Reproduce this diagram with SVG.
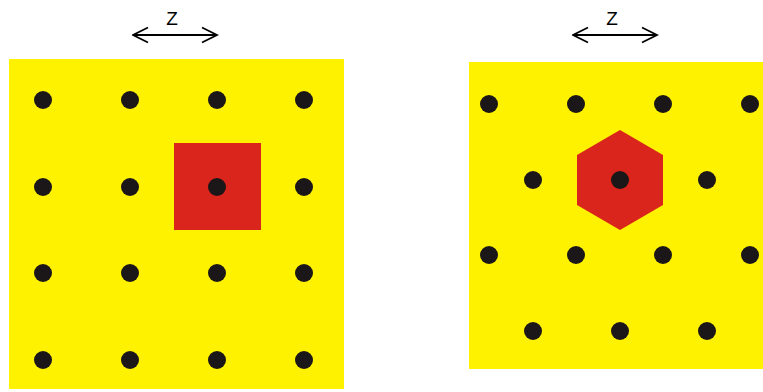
<svg xmlns="http://www.w3.org/2000/svg" width="763" height="392" viewBox="0 0 763 392">
<style>
.bg{fill:#FFF200}
.red{fill:#DA251D}
.dot{fill:#1B1718}
.arr{stroke:#000;stroke-width:1.8;fill:none}
.lbl{font-family:"Liberation Sans",Arial,sans-serif;font-size:19px;fill:#000}
</style>
<defs>
<marker id="ah" viewBox="0 0 18 18" refX="16.5" refY="9" markerWidth="18" markerHeight="18" markerUnits="userSpaceOnUse" orient="auto-start-reverse">
<path d="M1.5,1.5 L16.5,9 L1.5,16.5" fill="none" stroke="#000" stroke-width="1.8"/>
</marker>
<circle id="d" r="9" class="dot"/>
</defs>
<rect width="763" height="392" fill="#fff"/>
<g id="left-lattice">
<rect class="bg" x="9" y="59" width="335" height="330"/>
<rect id="square-cell" class="red" x="174" y="143" width="87" height="87"/>
<g id="left-dots">
<use href="#d" x="43" y="100"/><use href="#d" x="130" y="100"/><use href="#d" x="217" y="100"/><use href="#d" x="304" y="100"/>
<use href="#d" x="43" y="187"/><use href="#d" x="130" y="187"/><use href="#d" x="217" y="187"/><use href="#d" x="304" y="187"/>
<use href="#d" x="43" y="273"/><use href="#d" x="130" y="273"/><use href="#d" x="217" y="273"/><use href="#d" x="304" y="273"/>
<use href="#d" x="43" y="360"/><use href="#d" x="130" y="360"/><use href="#d" x="217" y="360"/><use href="#d" x="304" y="360"/>
</g>
</g>
<g id="right-lattice">
<rect class="bg" x="469" y="62" width="294" height="307"/>
<polygon id="hex-cell" class="red" points="620,130 663,155 663,205 620,230 577,205 577,155"/>
<g id="right-dots">
<use href="#d" x="489" y="104"/><use href="#d" x="576" y="104"/><use href="#d" x="663" y="104"/><use href="#d" x="750" y="104"/>
<use href="#d" x="533" y="180"/><use href="#d" x="620" y="180"/><use href="#d" x="707" y="180"/>
<use href="#d" x="489" y="255"/><use href="#d" x="576" y="255"/><use href="#d" x="663" y="255"/><use href="#d" x="750" y="255"/>
<use href="#d" x="533" y="331"/><use href="#d" x="620" y="331"/><use href="#d" x="707" y="331"/>
</g>
</g>
<g id="connectors">
<line class="arr" x1="133" y1="35" x2="217" y2="35" marker-start="url(#ah)" marker-end="url(#ah)"/>
<line class="arr" x1="573" y1="35" x2="657" y2="35" marker-start="url(#ah)" marker-end="url(#ah)"/>
</g>
<g id="labels">
<text class="lbl" x="172" y="25" text-anchor="middle">Z</text>
<text class="lbl" x="612" y="25" text-anchor="middle">Z</text>
</g>
</svg>
